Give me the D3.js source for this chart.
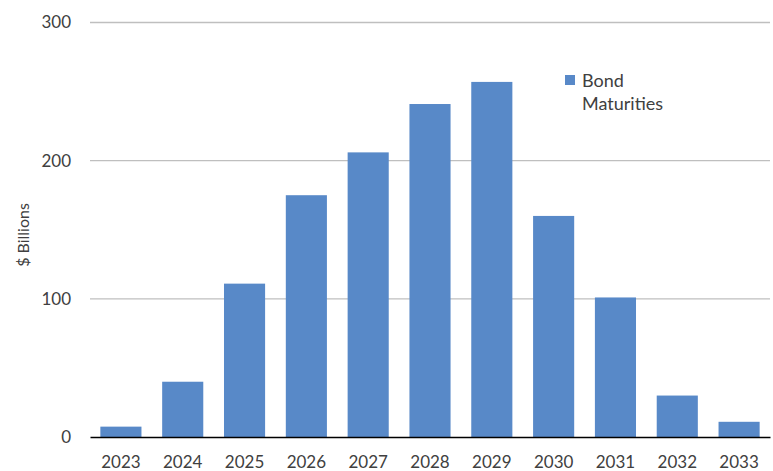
<!DOCTYPE html>
<html>
<head>
<meta charset="utf-8">
<script src="https://cdn.jsdelivr.net/npm/d3@7"></script>
<style>
  html, body { margin: 0; padding: 0; background: #fff; }
  text { font-family: Lato, "Open Sans", sans-serif; fill: #404040; }
</style>
</head>
<body>
<svg id="chart" width="773" height="471"></svg>
<script>
// Bond maturities by year, $ billions
const years = ["2023", "2024", "2025", "2026", "2027", "2028", "2029", "2030", "2031", "2032", "2033"];
const maturities = [7.5, 40, 111, 175, 206, 241, 257, 160, 101, 30, 11];
const yTicks = [0, 100, 200, 300];
const seriesName = ["Bond", "Maturities"];
const axisTitle = "$ Billions";

const svg = d3.select("#chart");
const plotLeft = 90, plotRight = 770, plotTop = 22.5, plotBottom = 437;

const x = d3.scaleBand().domain(years).range([plotLeft, plotRight]).paddingInner(0.335).paddingOuter(0.1675);
const y = d3.scaleLinear().domain([0, 300]).range([plotBottom, plotTop]);

// horizontal gridlines
svg.append("g").selectAll("line")
  .data(yTicks.filter(d => d > 0))
  .join("line")
  .attr("x1", plotLeft).attr("x2", plotRight)
  .attr("y1", d => y(d)).attr("y2", d => y(d))
  .attr("stroke", "#bfbfbf").attr("stroke-width", 1.3);

// y tick labels
const yAxis = svg.append("g")
  .attr("transform", `translate(${plotLeft - 19},0)`)
  .call(d3.axisLeft(y).tickValues(yTicks).tickSize(0).tickPadding(0));
yAxis.select(".domain").remove();
yAxis.selectAll("text").attr("font-size", 17).attr("fill", "#404040")
  .style("font-family", "Lato, 'Open Sans', sans-serif");

// bars
svg.append("g").selectAll("rect")
  .data(years.map((yr, i) => ({ yr, v: maturities[i] })))
  .join("rect")
  .attr("x", d => x(d.yr))
  .attr("width", x.bandwidth())
  .attr("y", d => y(d.v))
  .attr("height", d => y(0) - y(d.v))
  .attr("fill", "#5889c8");

// x axis
const xAxis = svg.append("g")
  .attr("transform", `translate(0,${plotBottom})`)
  .call(d3.axisBottom(x).tickSize(0).tickPadding(19));
xAxis.select(".domain").attr("stroke", "#000").attr("stroke-width", 1.6);
xAxis.selectAll("text").attr("font-size", 17).attr("fill", "#404040")
  .style("font-family", "Lato, 'Open Sans', sans-serif");

// y axis title
svg.append("text")
  .attr("transform", `translate(29,235) rotate(-90)`)
  .attr("text-anchor", "middle")
  .attr("font-size", 16)
  .text(axisTitle);

// legend
const lg = svg.append("g");
lg.append("rect").attr("x", 565).attr("y", 75).attr("width", 10).attr("height", 10).attr("fill", "#5889c8");
lg.selectAll("text.lab")
  .data(seriesName)
  .join("text")
  .attr("class", "lab")
  .attr("x", 582)
  .attr("y", (d, i) => 86.5 + i * 23.5)
  .attr("font-size", 18)
  .text(d => d);
</script>
</body>
</html>
